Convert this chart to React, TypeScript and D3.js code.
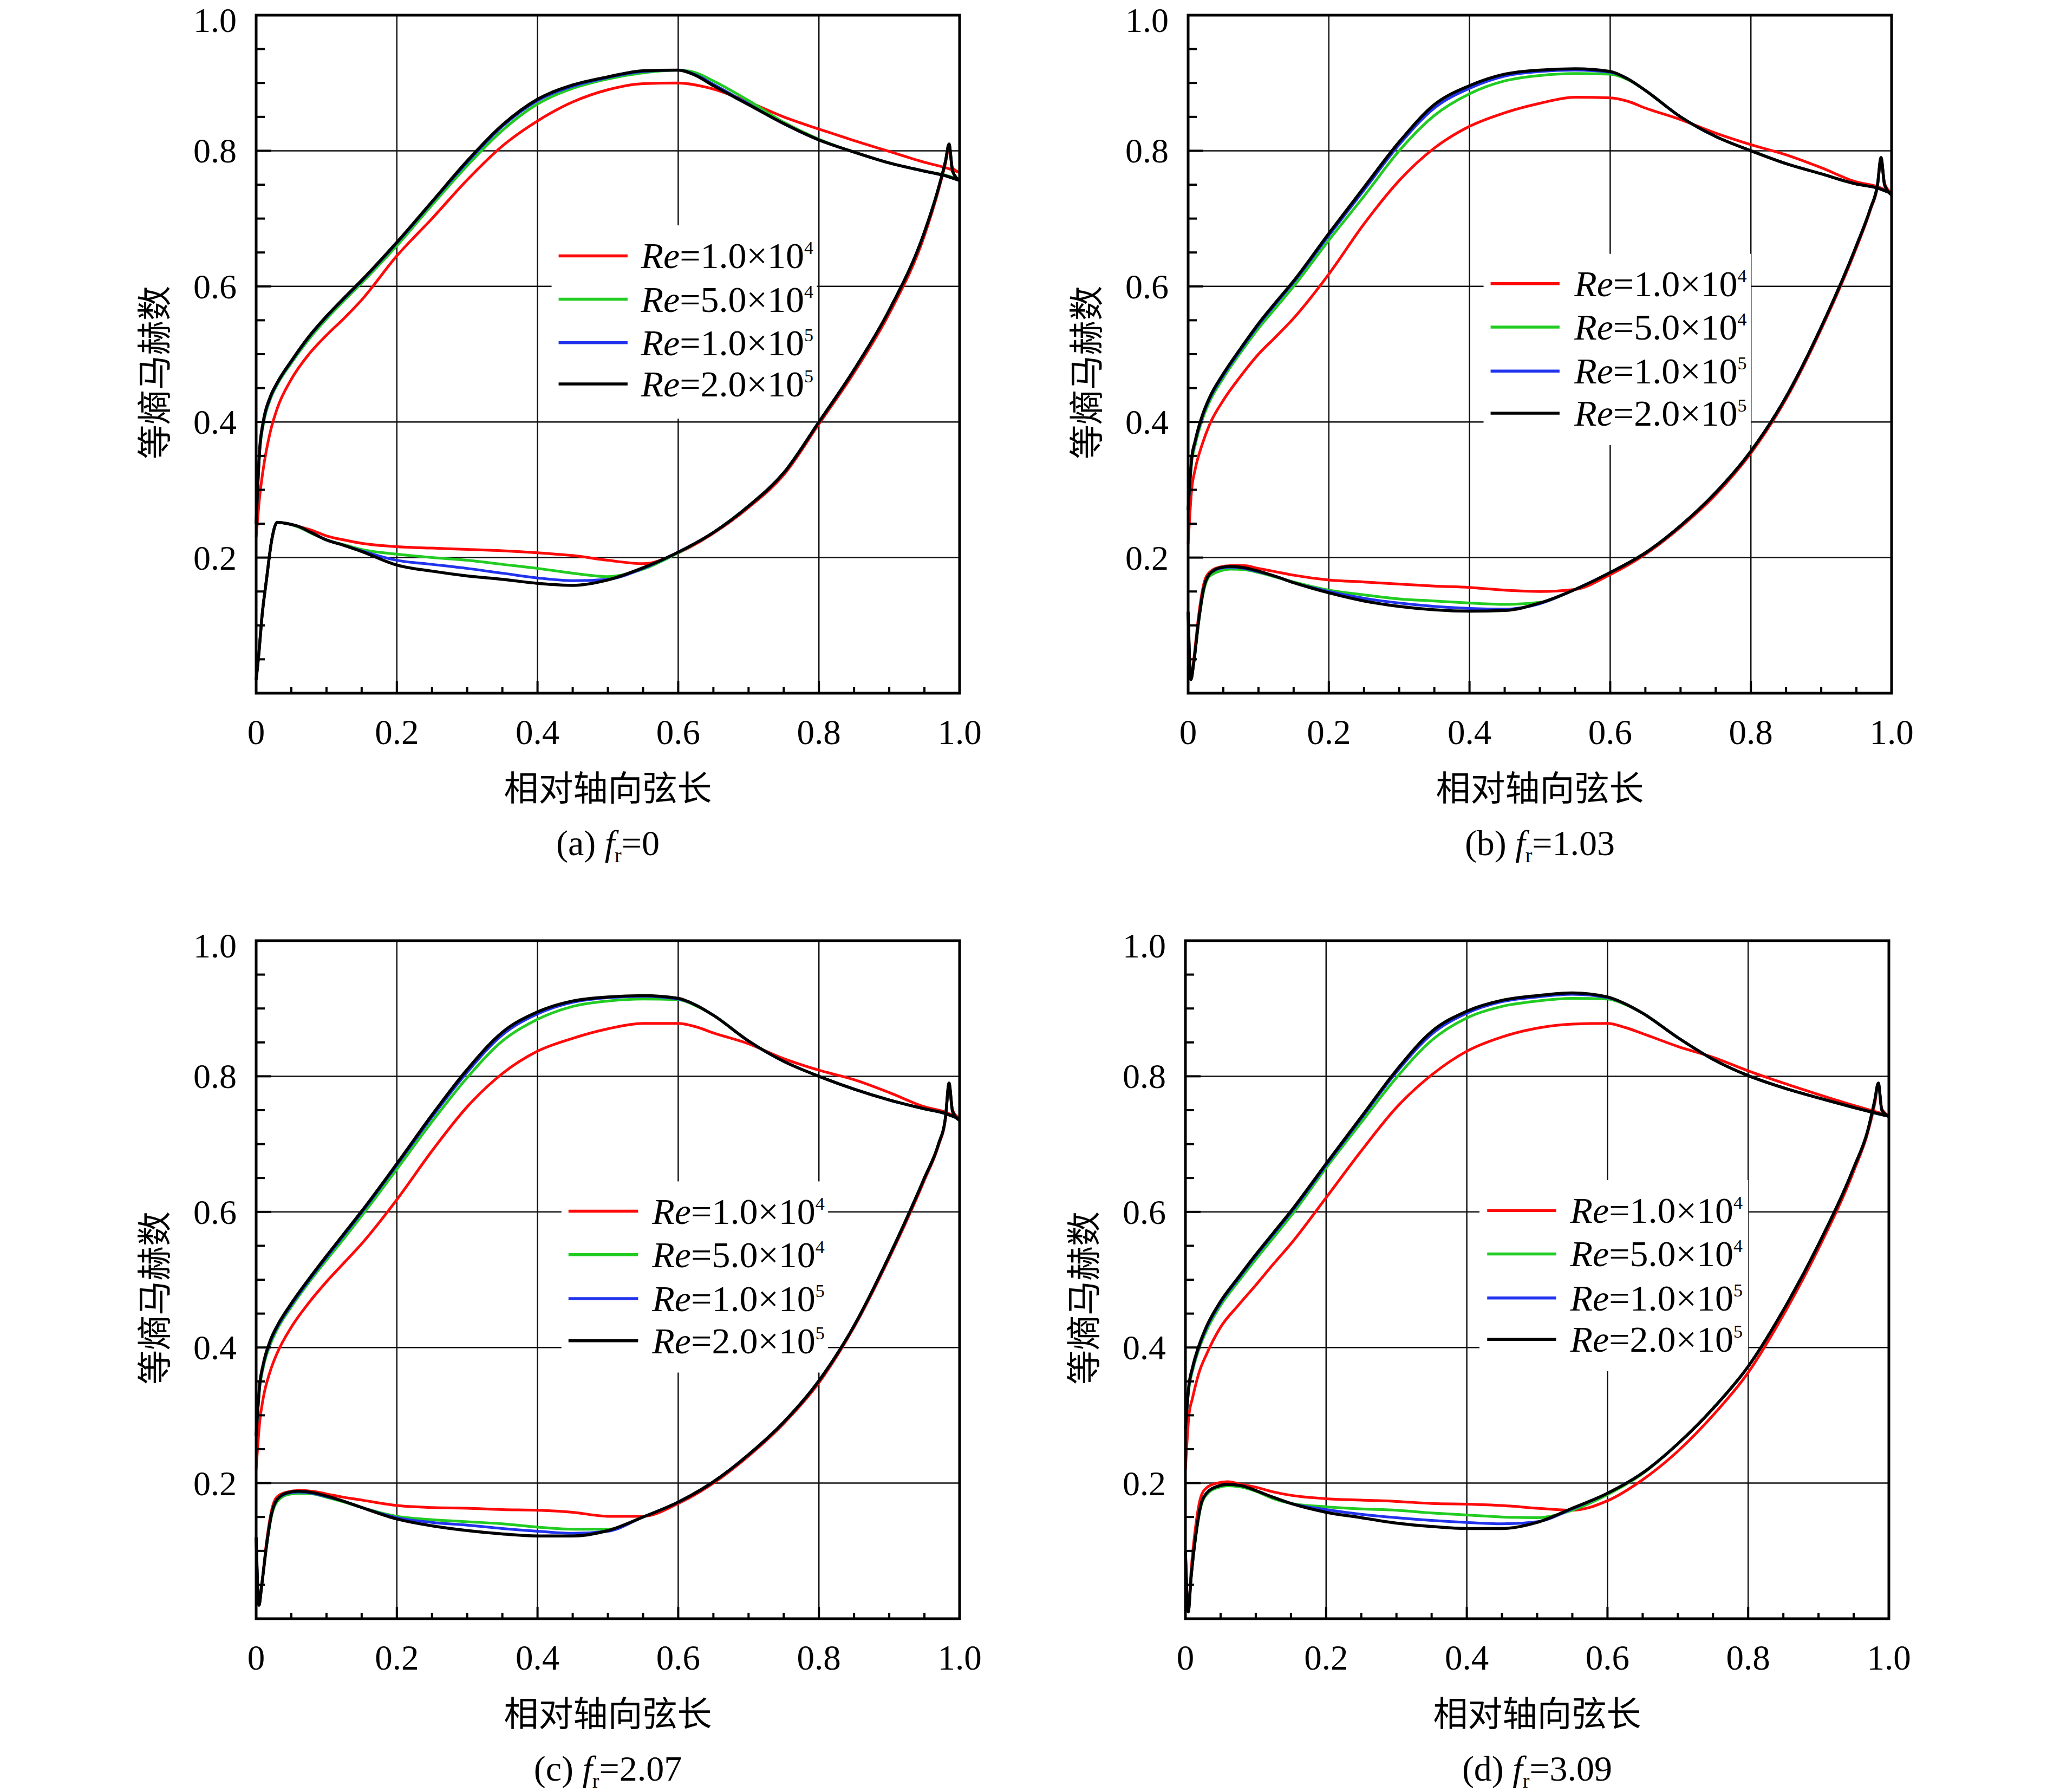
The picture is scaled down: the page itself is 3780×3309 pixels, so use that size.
import React from 'react';
import * as d3 from 'd3';

// ---------- shared x stations (relative axial chord) ----------
const SX = [0, 0.005, 0.01, 0.02, 0.03, 0.05, 0.075, 0.1, 0.125, 0.15, 0.2, 0.25, 0.3, 0.35, 0.4, 0.45, 0.5, 0.55, 0.6, 0.625, 0.65, 0.7, 0.75, 0.8, 0.85, 0.9, 0.95, 0.98, 1.0];
const PX = [0, 0.004, 0.008, 0.015, 0.022, 0.03, 0.045, 0.06, 0.08, 0.1, 0.125, 0.15, 0.2, 0.25, 0.3, 0.35, 0.4, 0.45, 0.5, 0.55, 0.6, 0.65, 0.7, 0.75, 0.8, 0.85, 0.9, 0.95, 0.97, 0.98, 0.985, 0.99, 1.0];

// ---------- series meta ----------
const SERIES_COLORS = ['#ff0a0a', '#22cc22', '#2233ee', '#000000'];
const RE_MANTISSA = ['1.0', '5.0', '1.0', '2.0'];
const RE_EXPONENT = ['4', '4', '5', '5'];
const PANEL_IDS = ['a', 'b', 'c', 'd'];
const FR_VALUES = ['0', '1.03', '2.07', '3.09'];
const X_TICKS = [0, 0.2, 0.4, 0.6, 0.8, 1.0];
const X_TICK_LABELS = ['0', '0.2', '0.4', '0.6', '0.8', '1.0'];
const Y_TICKS = [0.2, 0.4, 0.6, 0.8, 1.0];
const Y_TICK_LABELS = ['0.2', '0.4', '0.6', '0.8', '1.0'];
const GRID_VALUES = [0.2, 0.4, 0.6, 0.8];
const X_TITLE = '相对轴向弦长';
const Y_TITLE = '等熵马赫数';

// ---------- (a) fr = 0 ----------
const A_SUC_RE1E4 = [0.23, 0.29, 0.33, 0.385, 0.42, 0.463, 0.5, 0.528, 0.553, 0.58, 0.645, 0.70, 0.757, 0.807, 0.844, 0.872, 0.89, 0.899, 0.90, 0.897, 0.891, 0.872, 0.85, 0.832, 0.815, 0.799, 0.783, 0.775, 0.768];
const A_SUC_RE5E4 = [0.25, 0.355, 0.395, 0.433, 0.455, 0.487, 0.522, 0.552, 0.579, 0.605, 0.66, 0.72, 0.778, 0.83, 0.869, 0.892, 0.906, 0.915, 0.919, 0.915, 0.903, 0.874, 0.842, 0.817, 0.798, 0.782, 0.77, 0.764, 0.757];
const A_SUC_RE1E5 = [0.25, 0.358, 0.398, 0.435, 0.457, 0.489, 0.525, 0.555, 0.582, 0.608, 0.664, 0.724, 0.783, 0.836, 0.874, 0.895, 0.908, 0.917, 0.919, 0.912, 0.898, 0.869, 0.84, 0.816, 0.798, 0.782, 0.77, 0.763, 0.756];
const A_SUC_RE2E5 = [0.25, 0.36, 0.40, 0.437, 0.458, 0.49, 0.526, 0.556, 0.583, 0.609, 0.665, 0.725, 0.785, 0.838, 0.876, 0.897, 0.909, 0.918, 0.919, 0.911, 0.896, 0.868, 0.84, 0.816, 0.798, 0.782, 0.77, 0.763, 0.756];
const A_PRS_RE1E4 = [0.02, 0.06, 0.11, 0.17, 0.225, 0.252, 0.25, 0.246, 0.24, 0.232, 0.226, 0.221, 0.216, 0.214, 0.212, 0.21, 0.207, 0.203, 0.196, 0.191, 0.207, 0.236, 0.274, 0.322, 0.397, 0.473, 0.56, 0.675, 0.742, 0.782, 0.805, 0.775, 0.768];
const A_PRS_RE5E4 = [0.02, 0.06, 0.11, 0.17, 0.225, 0.252, 0.25, 0.245, 0.235, 0.226, 0.219, 0.212, 0.205, 0.2, 0.196, 0.19, 0.184, 0.177, 0.172, 0.183, 0.207, 0.237, 0.276, 0.325, 0.40, 0.477, 0.565, 0.68, 0.745, 0.785, 0.81, 0.77, 0.757];
const A_PRS_RE1E5 = [0.02, 0.06, 0.11, 0.17, 0.225, 0.252, 0.25, 0.246, 0.236, 0.226, 0.218, 0.21, 0.196, 0.19, 0.184, 0.177, 0.17, 0.166, 0.168, 0.184, 0.208, 0.237, 0.276, 0.325, 0.40, 0.477, 0.565, 0.68, 0.745, 0.785, 0.81, 0.77, 0.756];
const A_PRS_RE2E5 = [0.02, 0.06, 0.11, 0.17, 0.225, 0.252, 0.25, 0.246, 0.236, 0.226, 0.218, 0.209, 0.189, 0.18, 0.173, 0.168, 0.162, 0.159, 0.167, 0.185, 0.208, 0.237, 0.276, 0.325, 0.40, 0.477, 0.565, 0.68, 0.745, 0.785, 0.81, 0.77, 0.756];

// ---------- (b) fr = 1.03 ----------
const B_SUC_RE1E4 = [0.22, 0.30, 0.33, 0.367, 0.395, 0.432, 0.468, 0.50, 0.526, 0.553, 0.618, 0.692, 0.756, 0.804, 0.836, 0.856, 0.87, 0.879, 0.878, 0.873, 0.863, 0.846, 0.826, 0.809, 0.794, 0.775, 0.754, 0.747, 0.738];
const B_SUC_RE5E4 = [0.27, 0.34, 0.366, 0.403, 0.429, 0.465, 0.503, 0.538, 0.569, 0.60, 0.668, 0.733, 0.80, 0.852, 0.884, 0.903, 0.911, 0.914, 0.913, 0.905, 0.889, 0.85, 0.821, 0.80, 0.781, 0.766, 0.751, 0.745, 0.737];
const B_SUC_RE1E5 = [0.27, 0.344, 0.37, 0.407, 0.433, 0.469, 0.507, 0.543, 0.575, 0.606, 0.675, 0.742, 0.809, 0.863, 0.892, 0.91, 0.917, 0.919, 0.916, 0.906, 0.889, 0.85, 0.821, 0.80, 0.781, 0.766, 0.751, 0.745, 0.737];
const B_SUC_RE2E5 = [0.27, 0.346, 0.372, 0.409, 0.435, 0.471, 0.509, 0.545, 0.577, 0.608, 0.678, 0.746, 0.813, 0.868, 0.896, 0.913, 0.919, 0.921, 0.917, 0.906, 0.889, 0.85, 0.821, 0.80, 0.781, 0.766, 0.751, 0.745, 0.737];
const B_PRS_RE1E4 = [0.12, 0.02, 0.05, 0.115, 0.16, 0.178, 0.186, 0.188, 0.188, 0.184, 0.179, 0.174, 0.167, 0.164, 0.161, 0.158, 0.156, 0.152, 0.15, 0.153, 0.175, 0.205, 0.245, 0.293, 0.354, 0.434, 0.537, 0.657, 0.713, 0.748, 0.788, 0.752, 0.738];
const B_PRS_RE5E4 = [0.12, 0.02, 0.045, 0.105, 0.15, 0.172, 0.18, 0.183, 0.182, 0.178, 0.171, 0.164, 0.152, 0.145, 0.139, 0.136, 0.133, 0.131, 0.134, 0.153, 0.178, 0.207, 0.247, 0.296, 0.357, 0.437, 0.54, 0.66, 0.715, 0.75, 0.79, 0.75, 0.735];
const B_PRS_RE1E5 = [0.12, 0.02, 0.045, 0.107, 0.154, 0.175, 0.184, 0.186, 0.184, 0.179, 0.172, 0.163, 0.15, 0.14, 0.133, 0.128, 0.125, 0.124, 0.132, 0.153, 0.178, 0.207, 0.247, 0.296, 0.357, 0.437, 0.54, 0.66, 0.715, 0.75, 0.79, 0.75, 0.735];
const B_PRS_RE2E5 = [0.12, 0.02, 0.045, 0.107, 0.154, 0.175, 0.185, 0.187, 0.185, 0.18, 0.172, 0.163, 0.148, 0.136, 0.128, 0.123, 0.121, 0.122, 0.133, 0.153, 0.178, 0.207, 0.247, 0.296, 0.357, 0.437, 0.54, 0.66, 0.715, 0.75, 0.79, 0.75, 0.735];

// ---------- (c) fr = 2.07 ----------
const C_SUC_RE1E4 = [0.22, 0.29, 0.325, 0.365, 0.392, 0.43, 0.466, 0.497, 0.525, 0.553, 0.618, 0.69, 0.755, 0.804, 0.837, 0.856, 0.87, 0.878, 0.878, 0.873, 0.864, 0.848, 0.826, 0.809, 0.795, 0.776, 0.755, 0.747, 0.738];
const C_SUC_RE5E4 = [0.27, 0.34, 0.37, 0.404, 0.427, 0.46, 0.496, 0.529, 0.561, 0.594, 0.663, 0.733, 0.798, 0.852, 0.884, 0.903, 0.911, 0.914, 0.913, 0.904, 0.89, 0.852, 0.822, 0.80, 0.781, 0.765, 0.752, 0.745, 0.737];
const C_SUC_RE1E5 = [0.27, 0.343, 0.373, 0.408, 0.43, 0.463, 0.499, 0.533, 0.566, 0.599, 0.669, 0.74, 0.806, 0.861, 0.892, 0.909, 0.916, 0.918, 0.914, 0.905, 0.89, 0.852, 0.822, 0.80, 0.781, 0.765, 0.752, 0.745, 0.737];
const C_SUC_RE2E5 = [0.27, 0.345, 0.375, 0.41, 0.432, 0.465, 0.501, 0.535, 0.568, 0.601, 0.671, 0.743, 0.81, 0.865, 0.895, 0.911, 0.917, 0.919, 0.915, 0.905, 0.89, 0.852, 0.822, 0.80, 0.781, 0.765, 0.752, 0.745, 0.737];
const C_PRS_RE1E4 = [0.12, 0.02, 0.05, 0.115, 0.16, 0.18, 0.187, 0.189, 0.188, 0.184, 0.179, 0.175, 0.167, 0.164, 0.163, 0.161, 0.16, 0.157, 0.151, 0.151, 0.17, 0.2, 0.24, 0.288, 0.348, 0.43, 0.532, 0.647, 0.698, 0.738, 0.788, 0.75, 0.738];
const C_PRS_RE5E4 = [0.12, 0.02, 0.05, 0.108, 0.152, 0.173, 0.183, 0.185, 0.184, 0.179, 0.172, 0.164, 0.151, 0.146, 0.143, 0.14, 0.135, 0.132, 0.132, 0.15, 0.172, 0.202, 0.242, 0.29, 0.351, 0.432, 0.535, 0.65, 0.70, 0.74, 0.79, 0.748, 0.735];
const C_PRS_RE1E5 = [0.12, 0.02, 0.05, 0.11, 0.155, 0.176, 0.185, 0.187, 0.185, 0.18, 0.173, 0.164, 0.149, 0.142, 0.138, 0.133, 0.129, 0.126, 0.129, 0.15, 0.172, 0.202, 0.242, 0.29, 0.351, 0.432, 0.535, 0.65, 0.70, 0.74, 0.79, 0.748, 0.735];
const C_PRS_RE2E5 = [0.12, 0.02, 0.05, 0.11, 0.155, 0.176, 0.186, 0.188, 0.186, 0.181, 0.173, 0.164, 0.147, 0.137, 0.13, 0.125, 0.122, 0.122, 0.13, 0.15, 0.172, 0.202, 0.242, 0.29, 0.351, 0.432, 0.535, 0.65, 0.70, 0.74, 0.79, 0.748, 0.735];

// ---------- (d) fr = 3.09 ----------
const D_SUC_RE1E4 = [0.22, 0.30, 0.325, 0.365, 0.39, 0.43, 0.462, 0.492, 0.523, 0.553, 0.621, 0.69, 0.754, 0.802, 0.837, 0.858, 0.871, 0.877, 0.878, 0.872, 0.863, 0.844, 0.828, 0.808, 0.79, 0.773, 0.757, 0.748, 0.742];
const D_SUC_RE5E4 = [0.28, 0.34, 0.365, 0.40, 0.425, 0.462, 0.497, 0.53, 0.562, 0.594, 0.665, 0.732, 0.798, 0.853, 0.886, 0.903, 0.911, 0.915, 0.914, 0.906, 0.893, 0.857, 0.825, 0.801, 0.783, 0.768, 0.754, 0.746, 0.741];
const D_SUC_RE1E5 = [0.28, 0.343, 0.368, 0.403, 0.429, 0.466, 0.501, 0.535, 0.567, 0.599, 0.669, 0.738, 0.806, 0.862, 0.893, 0.91, 0.917, 0.921, 0.916, 0.907, 0.893, 0.857, 0.825, 0.801, 0.783, 0.768, 0.754, 0.746, 0.741];
const D_SUC_RE2E5 = [0.28, 0.345, 0.37, 0.405, 0.431, 0.468, 0.503, 0.537, 0.569, 0.601, 0.671, 0.74, 0.809, 0.866, 0.896, 0.912, 0.919, 0.923, 0.917, 0.907, 0.893, 0.857, 0.825, 0.801, 0.783, 0.768, 0.754, 0.746, 0.741];
const D_PRS_RE1E4 = [0.1, 0.01, 0.07, 0.14, 0.18, 0.193, 0.2, 0.202, 0.198, 0.194, 0.187, 0.182, 0.177, 0.175, 0.173, 0.17, 0.169, 0.167, 0.163, 0.16, 0.174, 0.205, 0.247, 0.3, 0.363, 0.448, 0.546, 0.66, 0.717, 0.76, 0.788, 0.752, 0.742];
const D_PRS_RE5E4 = [0.1, 0.01, 0.06, 0.123, 0.165, 0.183, 0.193, 0.196, 0.194, 0.188, 0.177, 0.17, 0.165, 0.162, 0.16, 0.156, 0.153, 0.15, 0.149, 0.16, 0.183, 0.214, 0.258, 0.31, 0.372, 0.455, 0.552, 0.665, 0.72, 0.765, 0.79, 0.75, 0.741];
const D_PRS_RE1E5 = [0.1, 0.01, 0.06, 0.125, 0.168, 0.185, 0.195, 0.198, 0.196, 0.189, 0.179, 0.17, 0.161, 0.154, 0.149, 0.145, 0.142, 0.14, 0.143, 0.162, 0.185, 0.215, 0.258, 0.31, 0.372, 0.455, 0.552, 0.665, 0.72, 0.765, 0.79, 0.75, 0.741];
const D_PRS_RE2E5 = [0.1, 0.01, 0.06, 0.125, 0.168, 0.185, 0.195, 0.198, 0.196, 0.189, 0.179, 0.17, 0.157, 0.149, 0.141, 0.136, 0.133, 0.133, 0.142, 0.163, 0.185, 0.215, 0.258, 0.31, 0.372, 0.455, 0.552, 0.665, 0.72, 0.765, 0.79, 0.75, 0.741];

const PANEL_SUCTION = [
  [A_SUC_RE1E4, A_SUC_RE5E4, A_SUC_RE1E5, A_SUC_RE2E5],
  [B_SUC_RE1E4, B_SUC_RE5E4, B_SUC_RE1E5, B_SUC_RE2E5],
  [C_SUC_RE1E4, C_SUC_RE5E4, C_SUC_RE1E5, C_SUC_RE2E5],
  [D_SUC_RE1E4, D_SUC_RE5E4, D_SUC_RE1E5, D_SUC_RE2E5],
];
const PANEL_PRESSURE = [
  [A_PRS_RE1E4, A_PRS_RE5E4, A_PRS_RE1E5, A_PRS_RE2E5],
  [B_PRS_RE1E4, B_PRS_RE5E4, B_PRS_RE1E5, B_PRS_RE2E5],
  [C_PRS_RE1E4, C_PRS_RE5E4, C_PRS_RE1E5, C_PRS_RE2E5],
  [D_PRS_RE1E4, D_PRS_RE5E4, D_PRS_RE1E5, D_PRS_RE2E5],
];

// ---------- layout (pixels / data-space anchors) ----------
const W = 3780;
const H = 3309;
const PW = 1299;
const PH = 1252;
const PANEL_POS = [
  { left: 473, top: 28 },
  { left: 2194, top: 28 },
  { left: 473, top: 1737 },
  { left: 2189, top: 1737 },
];
const LEGEND_LAYOUT = [
  { lx0: 0.43, lx1: 0.528, tx: 0.547, rows: [0.645, 0.581, 0.517, 0.456], box: [0.42, 0.797, 0.405, 0.69] },
  { lx0: 0.43, lx1: 0.528, tx: 0.549, rows: [0.604, 0.54, 0.475, 0.413], box: [0.42, 0.80, 0.366, 0.648] },
  { lx0: 0.444, lx1: 0.543, tx: 0.563, rows: [0.601, 0.537, 0.472, 0.41], box: [0.434, 0.813, 0.363, 0.645] },
  { lx0: 0.429, lx1: 0.527, tx: 0.547, rows: [0.602, 0.538, 0.473, 0.412], box: [0.418, 0.80, 0.365, 0.647] },
];
const SERIF = "'Liberation Serif', 'Times New Roman', serif";
const CJK = "'Noto Sans CJK SC', 'Noto Sans CJK JP', sans-serif";

const xs = d3.scaleLinear().domain([0, 1]).range([0, PW]);
const ys = d3.scaleLinear().domain([0, 1]).range([PH, 0]);
const lineGen = d3
  .line<[number, number]>()
  .x((d) => xs(d[0]))
  .y((d) => ys(d[1]))
  .curve(d3.curveMonotoneX);

const MINOR_STEPS = d3.range(1, 20).map((k) => k / 20);

function Panel({ idx }: { idx: number }) {
  const pos = PANEL_POS[idx];
  const lg = LEGEND_LAYOUT[idx];
  const suction = PANEL_SUCTION[idx];
  const pressure = PANEL_PRESSURE[idx];
  return (
    <g transform={`translate(${pos.left},${pos.top})`}>
      {/* grid */}
      {GRID_VALUES.map((v) => (
        <line key={`gx${v}`} x1={xs(v)} x2={xs(v)} y1={0} y2={PH} stroke="#111" strokeWidth={2.5} />
      ))}
      {GRID_VALUES.map((v) => (
        <line key={`gy${v}`} x1={0} x2={PW} y1={ys(v)} y2={ys(v)} stroke="#111" strokeWidth={2.5} />
      ))}
      {/* legend background */}
      <rect
        x={xs(lg.box[0])}
        y={ys(lg.box[3])}
        width={xs(lg.box[1]) - xs(lg.box[0])}
        height={ys(lg.box[2]) - ys(lg.box[3])}
        fill="#fff"
      />
      {/* curves */}
      {SERIES_COLORS.map((c, i) => (
        <g key={`s${i}`} fill="none" stroke={c} strokeWidth={i === 3 ? 5.5 : 5} strokeLinejoin="round">
          <path d={lineGen(SX.map((x, j) => [x, suction[i][j]]) as [number, number][]) || ''} />
          <path d={lineGen(PX.map((x, j) => [x, pressure[i][j]]) as [number, number][]) || ''} />
        </g>
      ))}
      {/* legend */}
      {SERIES_COLORS.map((c, i) => (
        <g key={`l${i}`}>
          <line x1={xs(lg.lx0)} x2={xs(lg.lx1)} y1={ys(lg.rows[i])} y2={ys(lg.rows[i])} stroke={c} strokeWidth={5.5} />
          <text x={xs(lg.tx)} y={ys(lg.rows[i]) + 23} fontFamily={SERIF} fontSize={68} fill="#000">
            <tspan fontStyle="italic">Re</tspan>
            <tspan>{`=${RE_MANTISSA[i]}×10`}</tspan>
            <tspan dy={-26} fontSize={34}>{RE_EXPONENT[i]}</tspan>
          </text>
        </g>
      ))}
      {/* frame */}
      <rect x={0} y={0} width={PW} height={PH} fill="none" stroke="#000" strokeWidth={5} />
      {/* left ticks */}
      {MINOR_STEPS.map((v) => {
        const major = Math.abs(v * 5 - Math.round(v * 5)) < 1e-6;
        return <line key={`ly${v}`} x1={0} x2={major ? 28 : 16} y1={ys(v)} y2={ys(v)} stroke="#000" strokeWidth={4} />;
      })}
      {/* bottom ticks */}
      {MINOR_STEPS.map((v) => {
        const major = Math.abs(v * 5 - Math.round(v * 5)) < 1e-6;
        return <line key={`lx${v}`} x1={xs(v)} x2={xs(v)} y1={PH} y2={PH - (major ? 22 : 11)} stroke="#000" strokeWidth={4} />;
      })}
      {/* tick labels */}
      {Y_TICKS.map((v, i) => (
        <text
          key={`yt${v}`}
          x={-36}
          y={ys(v) + (v === 1 ? 31 : 22)}
          textAnchor="end"
          fontFamily={SERIF}
          fontSize={64}
          fill="#000"
        >
          {Y_TICK_LABELS[i]}
        </text>
      ))}
      {X_TICKS.map((v, i) => (
        <text key={`xt${v}`} x={xs(v)} y={PH + 94} textAnchor="middle" fontFamily={SERIF} fontSize={65} fill="#000">
          {X_TICK_LABELS[i]}
        </text>
      ))}
      {/* axis titles */}
      <text x={PW / 2} y={PH + 198} textAnchor="middle" fontFamily={CJK} fontSize={64} fill="#000">
        {X_TITLE}
      </text>
      <text
        transform={`translate(${-165},${660}) rotate(-90)`}
        textAnchor="middle"
        fontFamily={CJK}
        fontSize={64}
        fill="#000"
      >
        {Y_TITLE}
      </text>
      {/* caption */}
      <text x={PW / 2} y={PH + 299} textAnchor="middle" fontFamily={SERIF} fontSize={66} fill="#000">
        <tspan>{`(${PANEL_IDS[idx]}) `}</tspan>
        <tspan fontStyle="italic">f</tspan>
        <tspan fontSize={38} dy={13}>r</tspan>
        <tspan dy={-13}>{`=${FR_VALUES[idx]}`}</tspan>
      </text>
    </g>
  );
}

export default function App() {
  return (
    <svg
      width={W}
      height={H}
      viewBox={`0 0 ${W} ${H}`}
      style={{ position: 'absolute', left: 0, top: 0, background: '#fff' }}
    >
      <rect x={0} y={0} width={W} height={H} fill="#fff" />
      {PANEL_IDS.map((id, i) => (
        <Panel key={id} idx={i} />
      ))}
    </svg>
  );
}
